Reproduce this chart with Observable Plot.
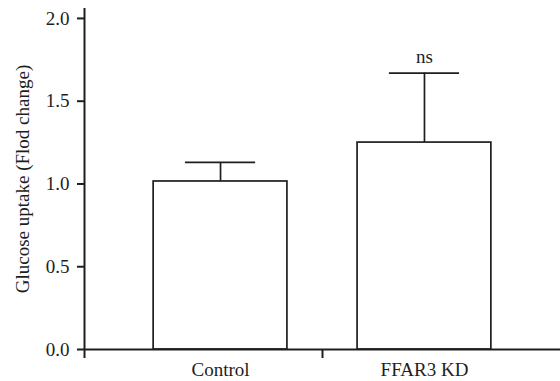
<!DOCTYPE html>
<html>
<head>
<meta charset="utf-8">
<script src="https://cdn.jsdelivr.net/npm/d3@7"></script>
<script src="https://cdn.jsdelivr.net/npm/@observablehq/plot@0.6"></script>
<style>
  html, body { margin: 0; padding: 0; background: white; }
  #chart svg, #chart svg text { font-family: "Liberation Serif", "Times New Roman", serif !important; font-size: 19px !important; }
</style>
</head>
<body>
<div id="chart"></div>
<script>
const categories = ["Control", "FFAR3 KD"];
const means = [1.015, 1.25];
const sems = [0.115, 0.42];
const sigLabels = ["", "ns"];
const yTicks = [0, 0.5, 1.0, 1.5, 2.0];
const yLabel = "Glucose uptake (Flod change)";

const data = categories.map((c, i) => ({
  i, c, mean: means[i], sem: sems[i], top: means[i] + sems[i], sig: sigLabels[i]
}));

const ink = "#1e1e1e";
const xMin = -0.667, xMax = 1.667;

const chart = Plot.plot({
  width: 560,
  height: 381,
  marginLeft: 84,
  marginRight: 0,
  marginTop: 8,
  marginBottom: 32,
  style: { fontFamily: "'Liberation Serif', 'Times New Roman', serif", fontSize: "19px", color: ink, background: "white" },
  x: { type: "linear", domain: [xMin, xMax] },
  y: { domain: [0, 2.06] },
  marks: [
    Plot.rect(data, { x1: d => d.i - 0.328, x2: d => d.i + 0.328, y1: 0, y2: "mean", fill: "white", stroke: ink, strokeWidth: 1.7 }),
    Plot.ruleX(data, { x: "i", y1: "mean", y2: "top", stroke: ink, strokeWidth: 1.7 }),
    Plot.ruleY(data, { y: "top", x1: d => d.i - 0.172, x2: d => d.i + 0.172, stroke: ink, strokeWidth: 1.7 }),
    Plot.text(data, { x: "i", y: "top", text: "sig", dy: -16, fill: ink }),
    Plot.ruleY([0], { stroke: ink, strokeWidth: 2 }),
    Plot.ruleX([xMin], { stroke: ink, strokeWidth: 2 }),
    Plot.axisY({ ticks: yTicks, tickFormat: d3.format(".1f"), tickSize: 7, tickPadding: 8, strokeWidth: 2, label: null }),
    Plot.axisX({ ticks: [0, 1], tickFormat: i => categories[i], tickSize: 0, tickPadding: 13, label: null }),
    Plot.axisX({ ticks: [xMin, 0.5], tickFormat: () => "", tickSize: 9, strokeWidth: 2, label: null }),
    Plot.text([yLabel], { frameAnchor: "left", rotate: -90, dx: -62, textAnchor: "middle", text: d => d, fill: ink })
  ]
});
document.getElementById("chart").appendChild(chart);
</script>
</body>
</html>
